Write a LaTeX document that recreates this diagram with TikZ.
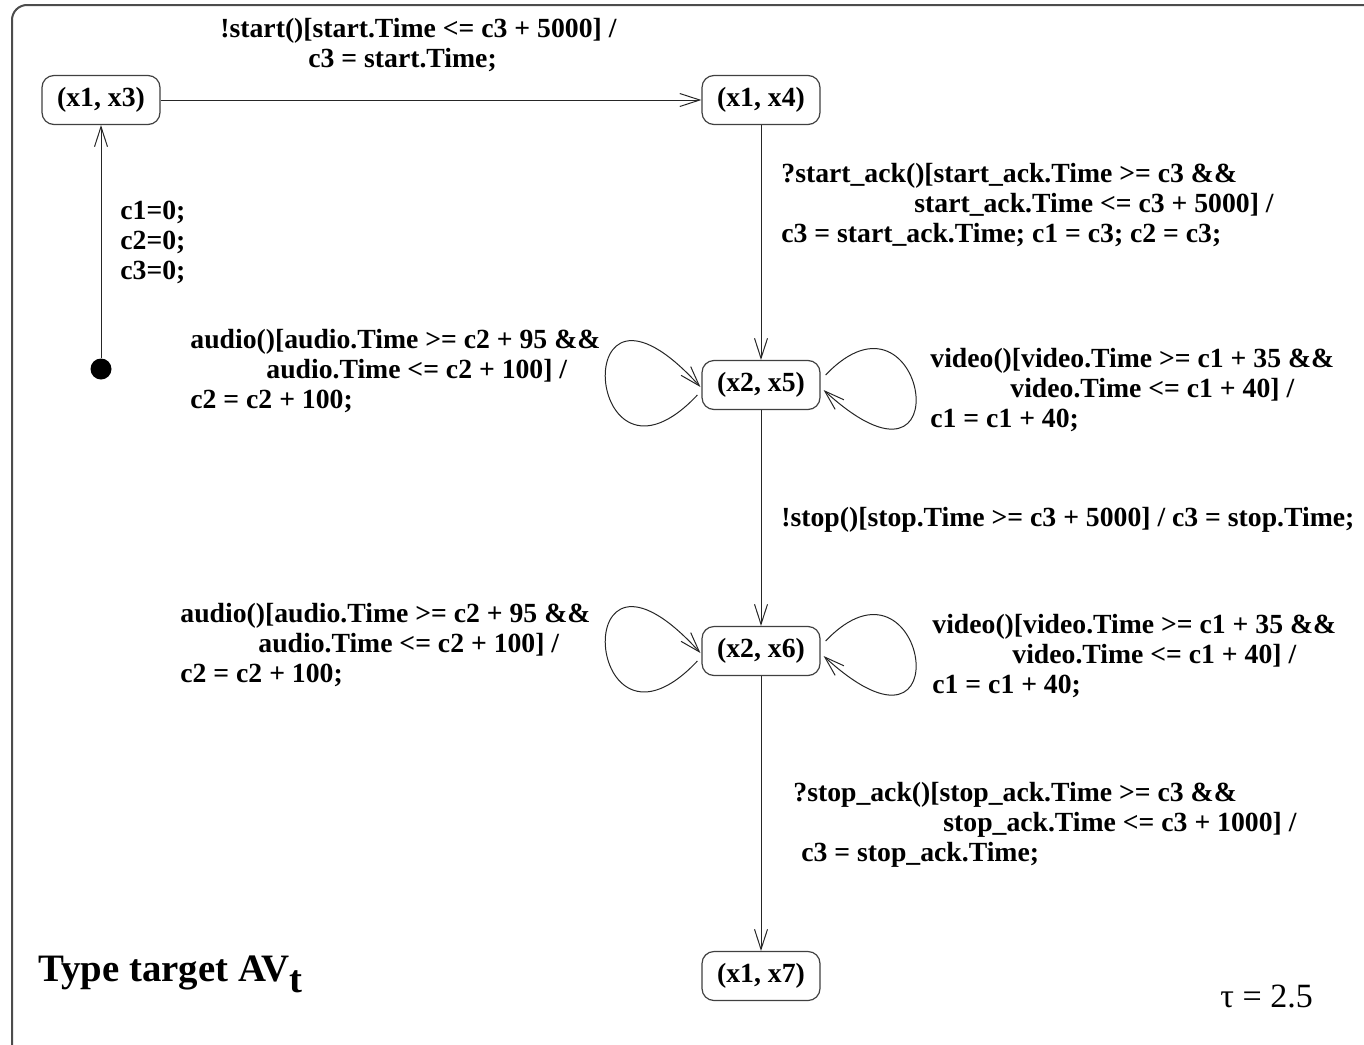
\documentclass[tikz,border=0pt]{standalone}
\usepackage{fontspec}
\setmainfont{Liberation Serif}
\usetikzlibrary{arrows.meta,calc}

\begin{document}
\begin{tikzpicture}[x=0.5pt,y=-0.5pt,
  state/.style={draw=black!75, line width=0.6pt, rounded corners=6pt,
    minimum width=59pt, minimum height=24.5pt, inner sep=0pt,
    font=\bfseries\fontsize{13.85}{15}\selectfont, fill=white},
  lbl/.style={inner sep=0pt, align=left, anchor=west,
    font=\bfseries\fontsize{13.85}{15}\selectfont},
  trans/.style={draw=black!85, line width=0.5pt,
    -{Straight Barb[length=10pt,width=6.5pt]}},
]
\useasboundingbox (0,0) rectangle (1364,1044);

% outer frame, running off the right and bottom edges
\begin{scope}
  \clip (0,0) rectangle (1364,1044);
  \draw[gray!60!black, line width=1pt, rounded corners=7.5pt]
    (12,5) rectangle (1420,1080);
\end{scope}

% states
\node[state] (n3) at (101,100) {(x1, x3)};
\node[state] (n4) at (761,100) {(x1, x4)};
\node[state] (n5) at (761,385) {(x2, x5)};
\node[state] (n6) at (761,651) {(x2, x6)};
\node[state] (n7) at (761,976) {(x1, x7)};

% initial pseudo-state
\node[circle, fill=black, inner sep=0pt, minimum size=10.5pt] (init) at (101,369) {};

% transitions
\draw[trans] (init) -- (n3.south);
\draw[trans] (n3.east) -- (n4.west);
\draw[trans] (n4.south) -- (n5.north);
\draw[trans] (n5.south) -- (n6.north);
\draw[trans] (n6.south) -- (n7.north);

% self loops
\foreach \s in {n5,n6}{
  \draw[trans] ($(\s.west)+(-4,10)$) .. controls +(-113,120) and +(-136,-150) .. ($(\s.west)+(-1,2)$);
  \draw[trans] ($(\s.east)+(5,-10)$) .. controls +(100,-105) and +(142,130) .. ($(\s.east)+(3,5)$);
}

% transition labels
\node[lbl] (l34) at (220,45) {!start()[start.Time <= c3 + 5000] /\\
  \hspace*{44pt}c3 = start.Time;};
\node[lbl] (l45) at (781,205) {?start\_ack()[start\_ack.Time >= c3 \&\&\\
  \hspace*{66.5pt}start\_ack.Time <= c3 + 5000] /\\
  c3 = start\_ack.Time; c1 = c3; c2 = c3;};
\node[lbl] (linit) at (120,242) {c1=0;\\c2=0;\\c3=0;};
\node[lbl] (la5) at (190,371) {audio()[audio.Time >= c2 + 95 \&\&\\
  \hspace*{38pt}audio.Time <= c2 + 100] /\\
  c2 = c2 + 100;};
\node[lbl] (lv5) at (930,390) {video()[video.Time >= c1 + 35 \&\&\\
  \hspace*{40pt}video.Time <= c1 + 40] /\\
  c1 = c1 + 40;};
\node[lbl] (l56) at (781,520) {!stop()[stop.Time >= c3 + 5000] / c3 = stop.Time;};
\node[lbl] (la6) at (180,645) {audio()[audio.Time >= c2 + 95 \&\&\\
  \hspace*{39pt}audio.Time <= c2 + 100] /\\
  c2 = c2 + 100;};
\node[lbl] (lv6) at (932,656) {video()[video.Time >= c1 + 35 \&\&\\
  \hspace*{40pt}video.Time <= c1 + 40] /\\
  c1 = c1 + 40;};
\node[lbl] (l67) at (793,825) {?stop\_ack()[stop\_ack.Time >= c3 \&\&\\
  \hspace*{75pt}stop\_ack.Time <= c3 + 1000] /\\
  \hspace*{4pt}c3 = stop\_ack.Time;};

% caption and parameter
\node[anchor=base west, inner sep=0pt, font=\bfseries\fontsize{19.4}{21}\selectfont]
  (title) at (38,981) {Type target AV\raisebox{-5.5pt}{t}};
\node[anchor=base west, inner sep=0pt, font=\fontsize{17}{20}\selectfont]
  (tau) at (1220,1007) {τ = 2.5};
\end{tikzpicture}
\end{document}
